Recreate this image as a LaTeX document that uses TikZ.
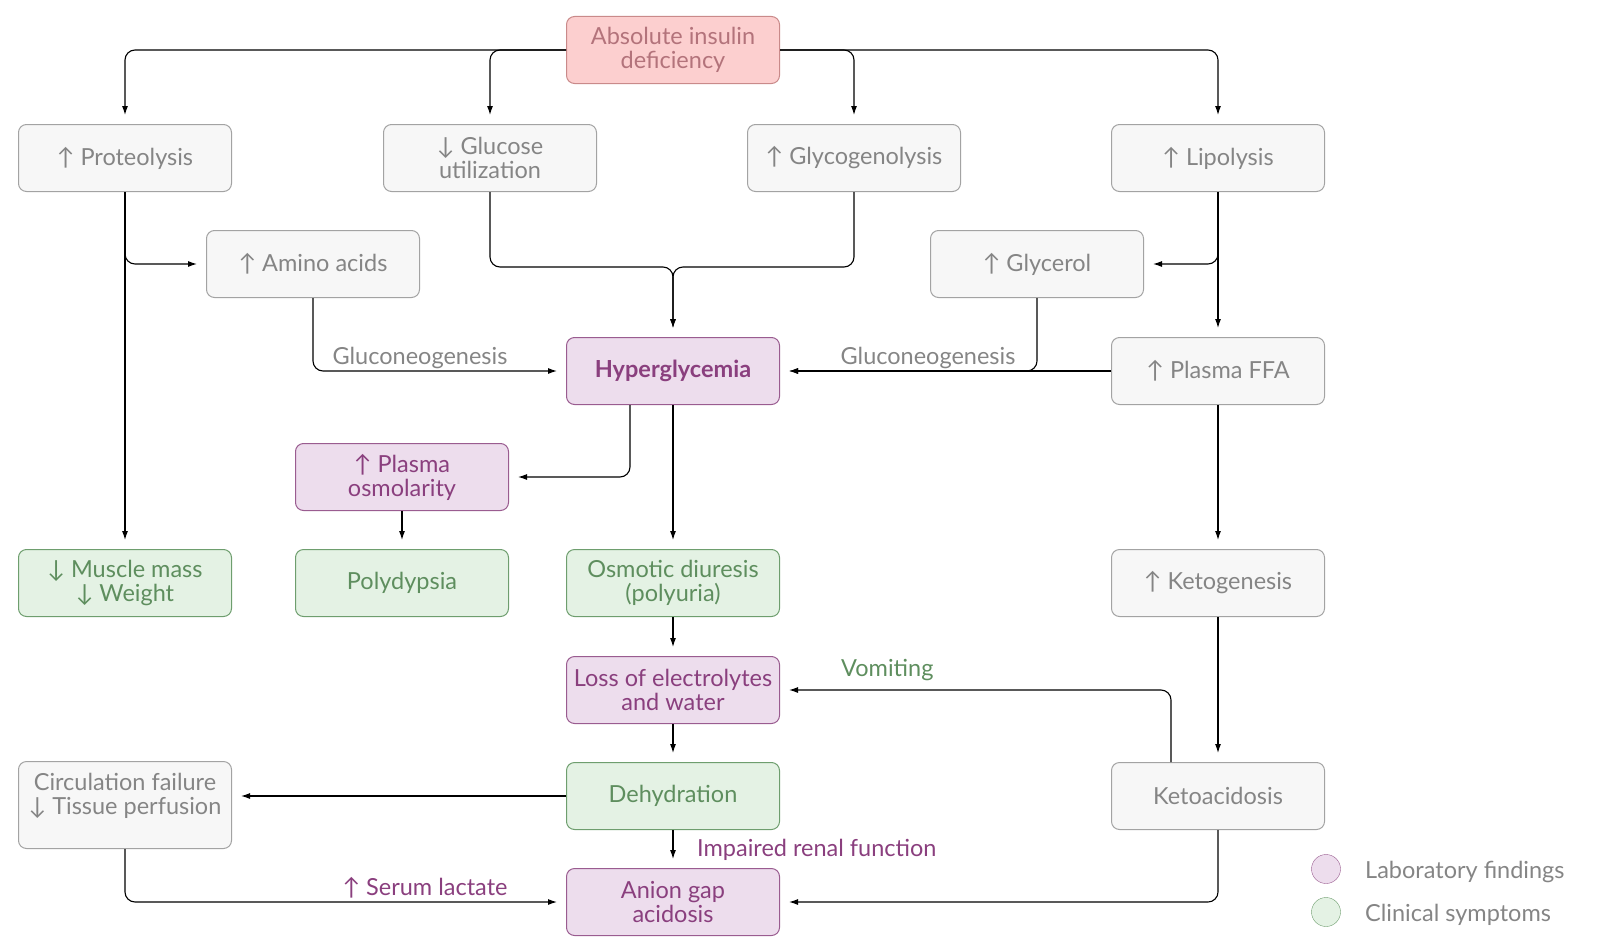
\documentclass[tikz,border=0pt]{standalone}
\usepackage{fontspec}
\setmainfont{Lato}
\usetikzlibrary{positioning,arrows.meta,calc}

\definecolor{greyfill}{HTML}{F7F7F7}
\definecolor{greyline}{HTML}{A3A3A3}
\definecolor{greytext}{HTML}{858585}
\definecolor{redfill}{HTML}{FCCFCF}
\definecolor{redline}{HTML}{C98A8A}
\definecolor{redtext}{HTML}{B3737B}
\definecolor{labfill}{HTML}{EDDDED}
\definecolor{labline}{HTML}{9A5C90}
\definecolor{labtext}{HTML}{8A3F7E}
\definecolor{clinfill}{HTML}{E4F2E4}
\definecolor{clinline}{HTML}{6E9E6E}
\definecolor{clintext}{HTML}{5E8E5E}

\begin{document}
\begin{tikzpicture}[x=1pt,y=-1pt,>={Latex[length=9pt,width=6pt]},
    box/.style={draw,rounded corners=8pt,line width=1pt,minimum width=213pt,
      minimum height=67pt,align=center,inner sep=2pt,
      font=\fontsize{23.5}{24}\selectfont},
    greybox/.style={box,draw=greyline,fill=greyfill,text=greytext},
    redbox/.style={box,draw=redline,fill=redfill,text=redtext},
    labbox/.style={box,draw=labline,fill=labfill,text=labtext},
    clinbox/.style={box,draw=clinline,fill=clinfill,text=clintext},
    link/.style={->,line width=1.1pt,rounded corners=10pt,shorten >=9pt},
    lbl/.style={inner sep=0pt,font=\fontsize{23.5}{24}\selectfont}]
  \useasboundingbox (0,0) rectangle (1600,950);
  %% nodes
  % Node: top
  \node[redbox] (ins) at (673,50) {Absolute insulin\\deficiency};
  % Node: row 1
  \node[greybox] (prot) at (125,158) {↑ Proteolysis};
  \node[greybox] (gluc) at (490,158) {↓ Glucose\\utilization};
  \node[greybox] (glyco) at (854,158) {↑ Glycogenolysis};
  \node[greybox] (lipo) at (1218,158) {↑ Lipolysis};
  % Node: row 2
  \node[greybox] (amino) at (313,264) {↑ Amino acids};
  \node[greybox] (glyc) at (1037,264) {↑ Glycerol};
  % Node: row 3
  \node[labbox,font=\fontsize{23.5}{24}\selectfont\bfseries] (hyp) at (673,371) {Hyperglycemia};
  \node[greybox] (ffa) at (1218,371) {↑ Plasma FFA};
  \node[labbox] (osm) at (402,477) {↑ Plasma\\osmolarity};
  % Node: row 4
  \node[clinbox] (musc) at (125,583) {↓ Muscle mass\\↓ Weight};
  \node[clinbox] (poly) at (402,583) {Polydypsia};
  \node[clinbox] (osmd) at (673,583) {Osmotic diuresis\\(polyuria)};
  \node[greybox] (keto) at (1218,583) {↑ Ketogenesis};
  % Node: bottom rows
  \node[labbox] (loss) at (673,690) {Loss of electrolytes\\and water};
  \node[clinbox] (dehy) at (673,796) {Dehydration};
  \node[greybox,minimum height=87pt] (circ) at (125,805) {Circulation failure\\↓ Tissue perfusion\\[-2pt]\mbox{}};
  \node[greybox] (ketoac) at (1218,796) {Ketoacidosis};
  \node[labbox] (anion) at (673,902) {Anion gap\\acidosis};
  %% edges
  % Edge: ins -> row 1
  \draw[link] (ins.west) -| (prot.north);
  \draw[link] (ins.west) -| (gluc.north);
  \draw[link] (ins.east) -| (glyco.north);
  \draw[link] (ins.east) -| (lipo.north);
  % Edge: gluc, glyco -> hyp
  \coordinate (merge) at (673,267);
  \draw[link] (gluc.south) |- (merge) -- (hyp.north);
  \draw[link] (glyco.south) |- (merge) -- (hyp.north);
  % Edge: prot -> amino, musc
  \draw[link] (prot.south) -- (musc.north);
  \draw[link] (prot.south) |- (amino.west);
  % Edge: lipo -> glyc, ffa
  \draw[link] (lipo.south) -- (ffa.north);
  \draw[link] (lipo.south) |- (glyc.east);
  % Edge: gluconeogenesis
  \draw[link] (amino.south) |- (hyp.west);
  \draw[link] (glyc.south) |- (hyp.east);
  \draw[link] (ffa.west) -- (hyp.east);
  \node[lbl,text=greytext] (gng1) at (420,358) {Gluconeogenesis};
  \node[lbl,text=greytext] (gng2) at (928,358) {Gluconeogenesis};
  % Edge: hyp -> osm, osmd
  \draw[link] ([xshift=-43pt]hyp.south) |- (osm.east);
  \draw[link] (hyp.south) -- (osmd.north);
  \draw[link] (osm.south) -- (poly.north);
  % Edge: ffa -> keto -> ketoac
  \draw[link] (ffa.south) -- (keto.north);
  \draw[link] (keto.south) -- (ketoac.north);
  % Edge: osmd -> loss -> dehy -> anion
  \draw[link] (osmd.south) -- (loss.north);
  \draw[link] (loss.south) -- (dehy.north);
  \draw[link] (dehy.south) -- (anion.north);
  \node[lbl,text=labtext,anchor=west] (renal) at (697,850) {Impaired renal function};
  % Edge: ketoac -> loss (vomiting)
  \draw[link] ([xshift=-47pt]ketoac.north) |- (loss.east);
  \node[lbl,text=clintext,anchor=west] (vomit) at (841,670) {Vomiting};
  % Edge: dehy -> circ
  \draw[link] (dehy.west) -- (dehy.west -| circ.east);
  % Edge: circ, ketoac -> anion
  \draw[link] (circ.south) |- (anion.west);
  \node[lbl,text=labtext] (lact) at (425,888) {↑ Serum lactate};
  \draw[link] (ketoac.south) |- (anion.east);
  %% legend
  \node[circle,draw=labline,fill=labfill,minimum size=29pt,inner sep=0pt] (leglab) at (1326,869) {};
  \node[lbl,text=greytext,anchor=west] (leglabtxt) at (1365,872) {Laboratory findings};
  \node[circle,draw=clinline,fill=clinfill,minimum size=29pt,inner sep=0pt] (legclin) at (1326,912) {};
  \node[lbl,text=greytext,anchor=west] (legclintxt) at (1365,915) {Clinical symptoms};
\end{tikzpicture}
\end{document}
